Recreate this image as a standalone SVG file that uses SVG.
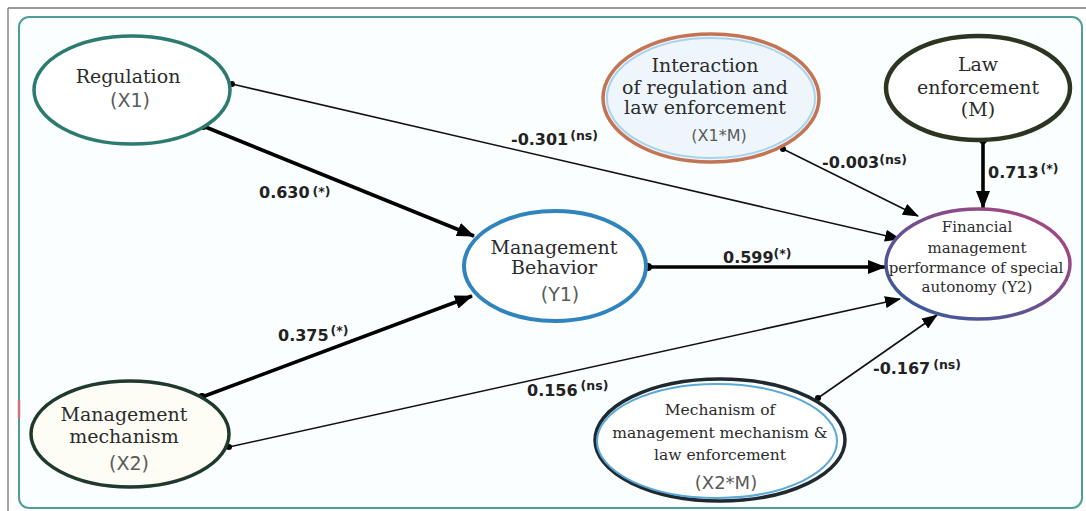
<svg xmlns="http://www.w3.org/2000/svg" width="1086" height="511" viewBox="0 0 1086 511">
<style>
.node text{font-family:"DejaVu Serif","Liberation Serif",serif;fill:#2b2b2b;text-anchor:middle}
.node text.code{fill:#5a5a5a;font-family:"DejaVu Sans","Liberation Sans",sans-serif}
.lbl{font-family:"DejaVu Sans","Liberation Sans",sans-serif;font-weight:bold;font-size:16px;fill:#222}
.sup{font-size:12.5px}
.thin{stroke:#111;stroke-width:1.6;fill:none;marker-end:url(#ah);marker-start:url(#dot)}
.thick{stroke:#000;stroke-width:3.6;fill:none;marker-end:url(#ahb);marker-start:url(#dotb)}
</style>
<defs>
<marker id="ah" markerUnits="userSpaceOnUse" markerWidth="16" markerHeight="12" viewBox="0 0 16 12" refX="15" refY="6" orient="auto"><path d="M0,0 L16,6 L0,12 Z" fill="#000"/></marker>
<marker id="ahb" markerUnits="userSpaceOnUse" markerWidth="18" markerHeight="14" viewBox="0 0 18 14" refX="17" refY="7" orient="auto"><path d="M0,0 L18,7 L0,14 Z" fill="#000"/></marker>
<marker id="dot" markerUnits="userSpaceOnUse" markerWidth="8" markerHeight="8" viewBox="0 0 8 8" refX="4" refY="4"><circle cx="4" cy="4" r="3" fill="#000"/></marker>
<marker id="dotb" markerUnits="userSpaceOnUse" markerWidth="10" markerHeight="10" viewBox="0 0 10 10" refX="5" refY="5"><circle cx="5" cy="5" r="4" fill="#000"/></marker>
<linearGradient id="y2g" x1="0" y1="1" x2="1" y2="0">
<stop offset="0" stop-color="#2f5a9c"/>
<stop offset="1" stop-color="#b2457f"/>
</linearGradient>
</defs>
<rect x="0" y="0" width="1086" height="511" fill="#fff"/>
<g id="frame">
<line x1="8" y1="8" x2="1086" y2="8" stroke="#777" stroke-width="1.5"/>
<line x1="8" y1="8" x2="8" y2="511" stroke="#888" stroke-width="1.5"/>
<rect x="19" y="17" width="1063" height="491" rx="10" fill="#fbfefe" stroke="#4f9f98" stroke-width="2"/>
<line x1="19" y1="400" x2="19" y2="418" stroke="#d07080" stroke-width="2.5"/>
</g>
<g id="connectors">
<line class="thin" x1="232" y1="84" x2="900" y2="239"/>
<line class="thick" x1="203" y1="126" x2="474" y2="236"/>
<line class="thick" x1="202" y1="397" x2="472" y2="296"/>
<line class="thin" x1="229" y1="447" x2="900" y2="299"/>
<line class="thick" x1="648" y1="267" x2="885" y2="267"/>
<line class="thin" x1="783" y1="149" x2="918" y2="216"/>
<line class="thick" x1="983" y1="140" x2="983" y2="208"/>
<line class="thin" x1="818" y1="398" x2="937" y2="315"/>
<text class="lbl" x="511" y="145">-0.301<tspan class="sup" dx="2" dy="-5">(ns)</tspan></text>
<text class="lbl" x="259" y="198">0.630<tspan class="sup" dx="3" dy="-2">(*)</tspan></text>
<text class="lbl" x="278" y="341">0.375<tspan class="sup" dx="2" dy="-6">(*)</tspan></text>
<text class="lbl" x="527" y="396">0.156<tspan class="sup" dx="3" dy="-6">(ns)</tspan></text>
<text class="lbl" x="723" y="263">0.599<tspan class="sup" dy="-5">(*)</tspan></text>
<text class="lbl" x="822" y="168">-0.003<tspan class="sup" dy="-4">(ns)</tspan></text>
<text class="lbl" x="988" y="178">0.713<tspan class="sup" dx="2" dy="-5">(*)</tspan></text>
<text class="lbl" x="873" y="374">-0.167<tspan class="sup" dx="3" dy="-5">(ns)</tspan></text>
</g>
<g id="n-x1" class="node">
<ellipse cx="132" cy="90" rx="98" ry="54" fill="#fff" stroke="#2c7a70" stroke-width="3.5"/>
<text x="128" y="83" font-size="19">Regulation</text>
<text class="code" x="130" y="107" font-size="19">(X1)</text>
</g>
<g id="n-x1m" class="node">
<ellipse cx="711" cy="98" rx="108" ry="64" fill="#eef6fb" stroke="#c27455" stroke-width="3.5"/>
<ellipse cx="711" cy="98" rx="104" ry="60" fill="none" stroke="#a9d3ea" stroke-width="2"/>
<text x="705" y="72" font-size="19">Interaction</text>
<text x="705" y="94" font-size="19">of regulation and</text>
<text x="705" y="114" font-size="19">law enforcement</text>
<text class="code" x="719" y="141" font-size="16">(X1*M)</text>
</g>
<g id="n-m" class="node">
<ellipse cx="978" cy="88" rx="92" ry="52" fill="#fff" stroke="#2c3520" stroke-width="4.5"/>
<text x="978" y="71" font-size="19">Law</text>
<text x="978" y="94" font-size="19">enforcement</text>
<text x="978" y="116" font-size="19">(M)</text>
</g>
<g id="n-y1" class="node">
<ellipse cx="555" cy="266" rx="91" ry="55" fill="#fff" stroke="#2f84bd" stroke-width="4"/>
<text x="554" y="254" font-size="19">Management</text>
<text x="554" y="274" font-size="19">Behavior</text>
<text class="code" x="560" y="301" font-size="19">(Y1)</text>
</g>
<g id="n-y2" class="node">
<ellipse cx="978" cy="264" rx="92" ry="55" fill="#fff" stroke="url(#y2g)" stroke-width="3.5"/>
<text x="977" y="232" font-size="15">Financial</text>
<text x="977" y="253" font-size="15">management</text>
<text x="976" y="273" font-size="15">performance of special</text>
<text x="977" y="292" font-size="15">autonomy (Y2)</text>
</g>
<g id="n-x2" class="node">
<ellipse cx="130" cy="434" rx="99" ry="53" fill="#fdfdf6" stroke="#1f3a2c" stroke-width="3.5"/>
<text x="124" y="421" font-size="19">Management</text>
<text x="124" y="443" font-size="19">mechanism</text>
<text class="code" x="129" y="470" font-size="19">(X2)</text>
</g>
<g id="n-x2m" class="node">
<ellipse cx="720" cy="440" rx="125" ry="61" fill="#fff" stroke="#1e2a30" stroke-width="3.5"/>
<ellipse cx="717" cy="441" rx="120" ry="57" fill="none" stroke="#5aa8d8" stroke-width="2"/>
<text x="720" y="415" font-size="15.5">Mechanism of</text>
<text x="720" y="438" font-size="15.5">management mechanism &amp;</text>
<text x="720" y="460" font-size="15.5">law enforcement</text>
<text class="code" x="726" y="489" font-size="18">(X2*M)</text>
</g>
</svg>
